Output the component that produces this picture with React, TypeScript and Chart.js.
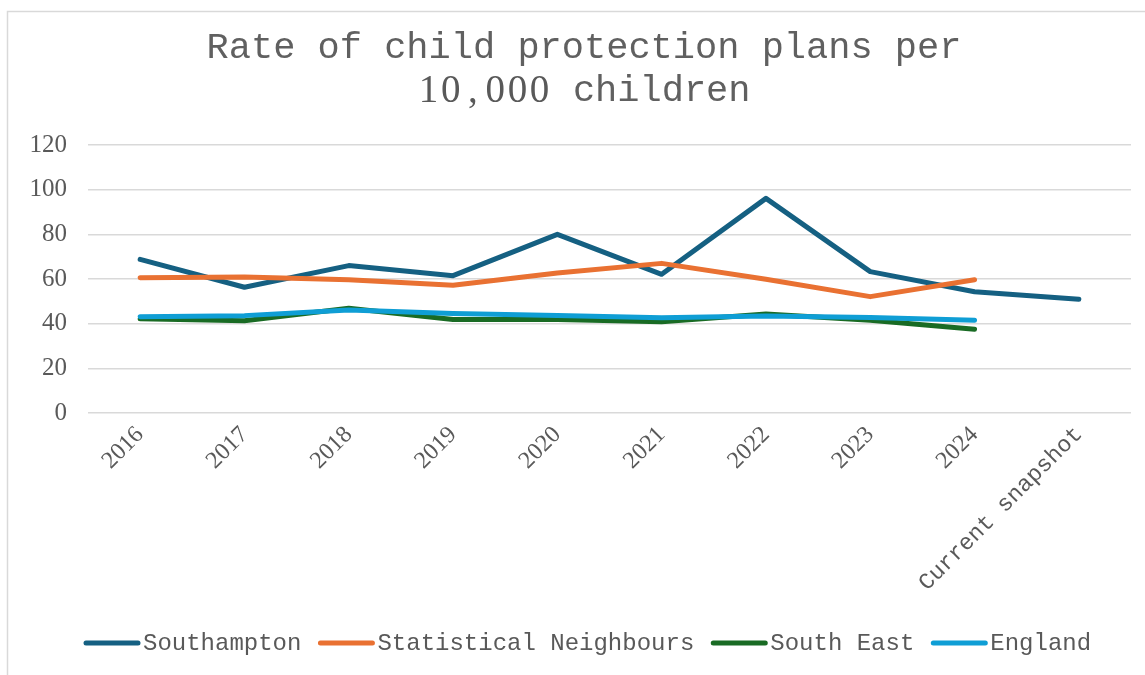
import React, { useEffect, useRef } from "react";
import { Chart, registerables } from "chart.js";

Chart.register(...registerables);

const categories = ["2016", "2017", "2018", "2019", "2020", "2021", "2022", "2023", "2024", "Current snapshot"];
const southampton = [68.8, 56.3, 66.0, 61.5, 80.0, 62.1, 96.1, 63.3, 54.3, 50.9];
const statNeighbours = [60.6, 60.9, 59.7, 57.2, 62.7, 67.0, 59.9, 52.1, 59.7, null];
const southEast = [42.2, 41.3, 46.9, 41.9, 41.9, 40.9, 44.3, 41.5, 37.5, null];
const england = [43.1, 43.6, 46.1, 44.6, 43.7, 42.7, 43.4, 42.8, 41.5, null];

const seriesNames = ["Southampton", "Statistical Neighbours", "South East", "England"];
const seriesColors = ["#156082", "#E97132", "#196B24", "#0F9ED5"];
const yMin = 0;
const yMax = 120;
const yStep = 20;

const titleLine1 = "Rate of child protection plans per";
const titleLine2a = "10,000";
const titleLine2b = " children";

const TEXT = "#595959";
const MONO = "'Liberation Mono', 'Courier New', monospace";
const SERIF = "'Liberation Serif', 'Times New Roman', serif";

const decorPlugin = {
  id: "decor",
  afterDraw(chart: any) {
    const ctx = chart.ctx;
    ctx.save();
    // outer border
    ctx.strokeStyle = "#d9d9d9";
    ctx.lineWidth = 1.5;
    ctx.strokeRect(7.5, 11.5, 1200, 700);

    // title
    const cx = 584;
    const titleSize = 37;
    ctx.fillStyle = "#606060";
    ctx.textBaseline = "alphabetic";
    ctx.textAlign = "left";
    ctx.font = `${titleSize}px ${MONO}`;
    const w1 = ctx.measureText(titleLine1).width;
    ctx.fillText(titleLine1, cx - w1 / 2, 58);
    const cell = ctx.measureText("M").width;
    const total = (titleLine2a.length + titleLine2b.length) * cell;
    const sx = cx - total / 2;
    ctx.font = `39px ${SERIF}`;
    ctx.fillStyle = "#595959";
    ctx.textAlign = "center";
    for (let i = 0; i < titleLine2a.length; i++) {
      ctx.fillText(titleLine2a[i], sx + cell * (i + 0.5), 102);
    }
    ctx.fillStyle = "#606060";
    ctx.textAlign = "left";
    ctx.font = `${titleSize}px ${MONO}`;
    ctx.fillText(titleLine2b, sx + cell * titleLine2a.length, 101);

    // legend
    const ly = 643;
    ctx.font = `24px ${MONO}`;
    ctx.textBaseline = "middle";
    let x = 86;
    seriesNames.forEach((name, i) => {
      ctx.strokeStyle = seriesColors[i];
      ctx.lineWidth = 5;
      ctx.lineCap = "round";
      ctx.beginPath();
      ctx.moveTo(x, ly);
      ctx.lineTo(x + 52, ly);
      ctx.stroke();
      ctx.fillStyle = TEXT;
      ctx.fillText(name, x + 57, ly + 1);
      x += 57 + ctx.measureText(name).width + 19;
    });
    ctx.restore();
  },
};

export default function App() {
  const ref = useRef<HTMLCanvasElement>(null);
  useEffect(() => {
    if (!ref.current) return;
    const dataSets = [southampton, statNeighbours, southEast, england];
    const chart = new Chart(ref.current, {
      type: "line",
      data: {
        labels: categories,
        datasets: dataSets.map((d, i) => ({
          label: seriesNames[i],
          data: d,
          borderColor: seriesColors[i],
          backgroundColor: seriesColors[i],
          borderWidth: 5,
          pointRadius: 0,
          pointHoverRadius: 0,
          borderCapStyle: "round",
          borderJoinStyle: "round",
          tension: 0,
          spanGaps: false,
          order: 3 - i,
        })),
      },
      options: {
        responsive: false,
        animation: false,
        layout: { padding: { left: 0, right: 14, top: 145, bottom: 0 } },
        plugins: {
          legend: { display: false },
          title: { display: false },
          tooltip: { enabled: false },
        },
        scales: {
          x: {
            offset: true,
            grid: { display: false, drawTicks: false },
            border: { display: false },
            ticks: {
              autoSkip: false,
              minRotation: 45,
              maxRotation: 45,
              padding: 8,
              color: TEXT,
              font: (c: any) =>
                c.index === 9
                  ? { family: MONO, size: 23 }
                  : { family: SERIF, size: 24 },
            },
            afterFit: (s: any) => {
              s.height = 675 - 413;
            },
          },
          y: {
            min: yMin,
            max: yMax,
            grid: { color: "#d9d9d9", lineWidth: 1.5, drawTicks: false },
            border: { display: false },
            ticks: {
              stepSize: yStep,
              padding: 21,
              color: TEXT,
              font: { family: SERIF, size: 25 },
            },
            afterFit: (s: any) => {
              s.width = 88;
            },
          },
        },
      },
      plugins: [decorPlugin],
    });
    return () => chart.destroy();
  }, []);
  return (
    <div style={{ position: "fixed", left: 0, top: 0, width: 1145, height: 675, background: "#fff" }}>
      <canvas ref={ref} width={1145} height={675} style={{ width: 1145, height: 675, display: "block" }} />
    </div>
  );
}
